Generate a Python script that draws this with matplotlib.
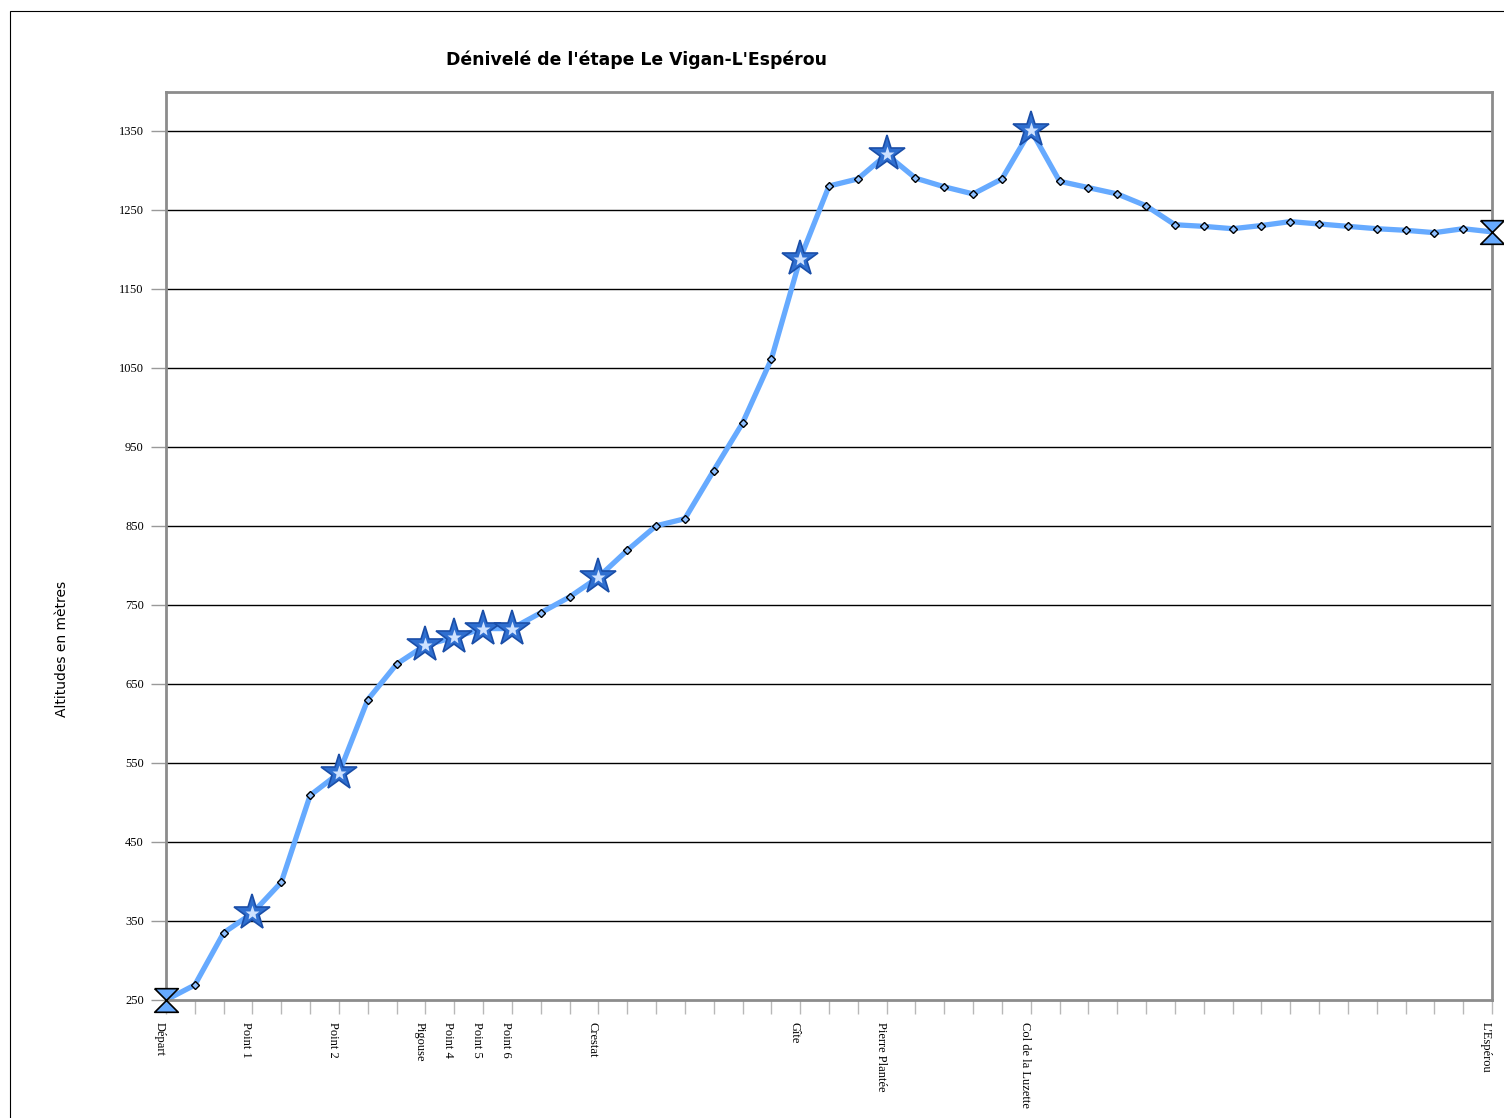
import numpy as np
import matplotlib.pyplot as plt
from matplotlib.patches import Rectangle

# Altitudes relevées le long de l'étape (m)
altitudes = [250, 269, 335, 360, 399, 509, 537, 630, 675, 699,
             709, 720, 720, 740, 760, 785, 819, 850, 859, 920,
             980, 1061, 1188, 1280, 1289, 1320, 1290, 1279, 1270, 1289,
             1351, 1286, 1278, 1270, 1255, 1231, 1229, 1226, 1230, 1235,
             1232, 1229, 1226, 1224, 1221, 1226, 1222]

# Points nommés (index -> nom)
etapes_idx = [0, 3, 6, 9, 10, 11, 12, 15, 22, 25, 30, 46]
etapes_noms = ["Départ", "Point 1", "Point 2", "Pigouse", "Point 4", "Point 5",
               "Point 6", "Crestat", "Gîte", "Pierre Plantée",
               "Col de la Luzette", "L'Espérou"]

y_ticks = [250, 350, 450, 550, 650, 750, 850, 950, 1050, 1150, 1250, 1350]

x = np.arange(len(altitudes))
alt = np.array(altitudes)

fig = plt.figure(figsize=(15.04, 11.18), dpi=100)
ax = fig.add_axes([166 / 1504, 1 - 1000 / 1118, 1326 / 1504, 908 / 1118])

# cadre extérieur
fig.patches.append(Rectangle((10 / 1504, -0.01), 1.1, 1 - 11 / 1118 + 0.01,
                             transform=fig.transFigure, fill=False,
                             edgecolor='black', linewidth=0.8))

# grille horizontale
for v in y_ticks[1:]:
    ax.axhline(v, color='black', linewidth=1.0, zorder=1)

# courbe
ax.plot(x, alt, color='#66aaff', linewidth=3.8, zorder=2)

# petits losanges pour les points intermédiaires
autres = [i for i in x if i not in etapes_idx]
ax.plot(x[autres], alt[autres], linestyle='none', marker='D', markersize=4.5,
        markerfacecolor='#8fc0ff', markeredgecolor='black', markeredgewidth=1.0,
        zorder=3)

# étoiles pour les points nommés
stars = etapes_idx[1:-1]
ax.plot(x[stars], alt[stars], linestyle='none', marker='*', markersize=27,
        markerfacecolor='#2f6fd0', markeredgecolor='#1a4ea8', markeredgewidth=1.2,
        zorder=4)
ax.plot(x[stars], alt[stars], linestyle='none', marker='*', markersize=11,
        markerfacecolor='#cfe2ff', markeredgecolor='none', zorder=5)

# sabliers au départ et à l'arrivée
sablier = [(-1, 1), (1, 1), (-1, -1), (1, -1), (-1, 1)]
ends = [etapes_idx[0], etapes_idx[-1]]
ax.plot(x[ends], alt[ends], linestyle='none', marker=sablier, markersize=17,
        markerfacecolor='#66aaff', markeredgecolor='black', markeredgewidth=1.2,
        zorder=6, clip_on=False)

ax.set_xlim(0, len(altitudes) - 1)
ax.set_ylim(250, 1399)

ax.set_xticks(x)
labels = [''] * len(x)
for i, n in zip(etapes_idx, etapes_noms):
    labels[i] = n
ax.set_xticklabels(labels, rotation=270, fontsize=9, family='Liberation Serif',
                   va='top', ha='right')
ax.set_yticks(y_ticks)
ax.set_yticklabels([str(v) for v in y_ticks], fontsize=9, family='Liberation Serif')

ax.tick_params(axis='x', length=10, color='#b8b8b8', width=1, pad=6)
ax.tick_params(axis='y', length=11, color='#999999', width=1, pad=5)

for s in ax.spines.values():
    s.set_color('#8c8c8c')
    s.set_linewidth(2)

fig.text(62 / 1504, 1 - 649 / 1118, 'Altitudes en mètres', rotation=90,
         fontsize=10, ha='center', va='center')
fig.text(636 / 1504, 1 - 60 / 1118, "Dénivelé de l'étape Le Vigan-L'Espérou",
         fontsize=12.4, fontweight='bold', ha='center', va='center')

fig.savefig('out.png', dpi=100)
